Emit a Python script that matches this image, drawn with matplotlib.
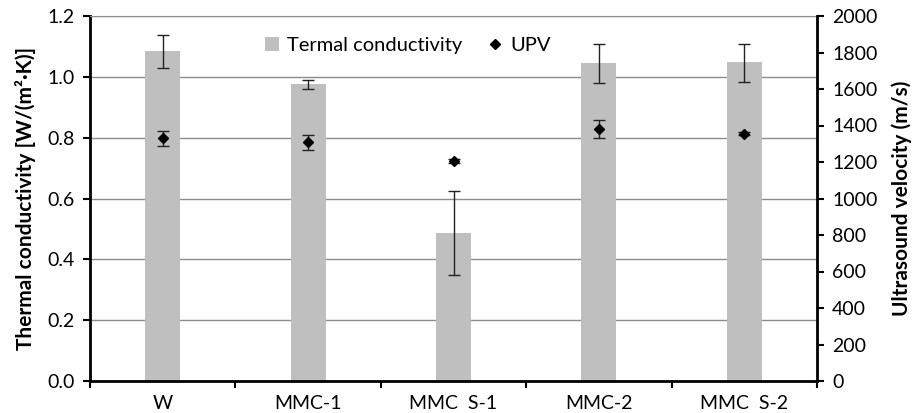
import numpy as np
import matplotlib.pyplot as plt
from matplotlib.lines import Line2D
from matplotlib.patches import Patch

# data
samples = ['W', 'MMC-1', 'MMC  S-1', 'MMC-2', 'MMC  S-2']
tc = [1.084, 0.975, 0.487, 1.044, 1.048]
tc_lo = [1.028, 0.959, 0.347, 0.979, 0.984]
tc_hi = [1.138, 0.989, 0.626, 1.108, 1.109]
upv = [1329, 1308, 1204, 1382, 1356]
upv_err = [40, 42, 10, 50, 10]

plt.rcParams['font.family'] = ['Lato', 'DejaVu Sans']

fig = plt.figure(figsize=(9.17, 4.13), dpi=100)
ax = fig.add_axes([90 / 917, 32 / 413, 727 / 917, 365 / 413])
x = np.arange(len(samples))

tc_err = [np.array(tc) - np.array(tc_lo), np.array(tc_hi) - np.array(tc)]
ax.bar(x, tc, width=0.24, color='#bfbfbf', zorder=2)
ax.errorbar(x, tc, yerr=tc_err, fmt='none', ecolor='#222222', elinewidth=1,
            capsize=4.5, capthick=1, zorder=3)
ax.set_ylim(0, 1.2)
ax.set_xlim(-0.5, len(samples) - 0.5)
ax.set_yticks(np.arange(0, 1.21, 0.2))
ax.set_yticklabels(['%.1f' % v for v in np.arange(0, 1.21, 0.2)], fontsize=14)
ax.yaxis.grid(True, color='#8c8c8c', linewidth=1, zorder=0)
ax.set_axisbelow(True)

ax.set_xticks(np.arange(-0.5, len(samples), 1.0))
ax.set_xticklabels([])
ax.set_xticks(x, minor=True)
ax.set_xticklabels(samples, minor=True, fontsize=14)
ax.tick_params(axis='x', which='major', length=5, width=1.5, direction='out')
ax.tick_params(axis='x', which='minor', length=0, pad=10)
ax.tick_params(axis='y', length=5, width=1.5, direction='out', pad=6)

for s in ['left', 'bottom']:
    ax.spines[s].set_linewidth(2)
ax.spines['top'].set_color('#8c8c8c')
ax.spines['right'].set_visible(False)

ax.set_ylabel('Thermal conductivity [W/(m²·K)]', fontsize=15, fontweight='bold', labelpad=8)

ax2 = ax.twinx()
ax2.errorbar(x, upv, yerr=upv_err, fmt='D', color='black', markersize=5.5,
             ecolor='#222222', elinewidth=1, capsize=4.5, capthick=1, zorder=4)
ax2.set_ylim(0, 2000)
ax2.set_yticks(np.arange(0, 2001, 200))
ax2.tick_params(axis='y', length=5, width=1.5, direction='out', labelsize=14, pad=6)
ax2.spines['right'].set_linewidth(2)
for s in ['left', 'top', 'bottom']:
    ax2.spines[s].set_visible(False)
ax2.set_ylabel('Ultrasound velocity (m/s)', fontsize=15, fontweight='bold', labelpad=10)

handles = [Patch(facecolor='#bfbfbf', edgecolor='none'),
           Line2D([], [], marker='D', color='black', linestyle='none', markersize=5)]
ax2.legend(handles, ['Termal conductivity', 'UPV'], loc='center',
           bbox_to_anchor=(0.437, 0.92), ncol=2, frameon=False, fontsize=14.5,
           handlelength=0.7, handletextpad=0.4, columnspacing=1.3)

fig.savefig('out.png', dpi=100)
